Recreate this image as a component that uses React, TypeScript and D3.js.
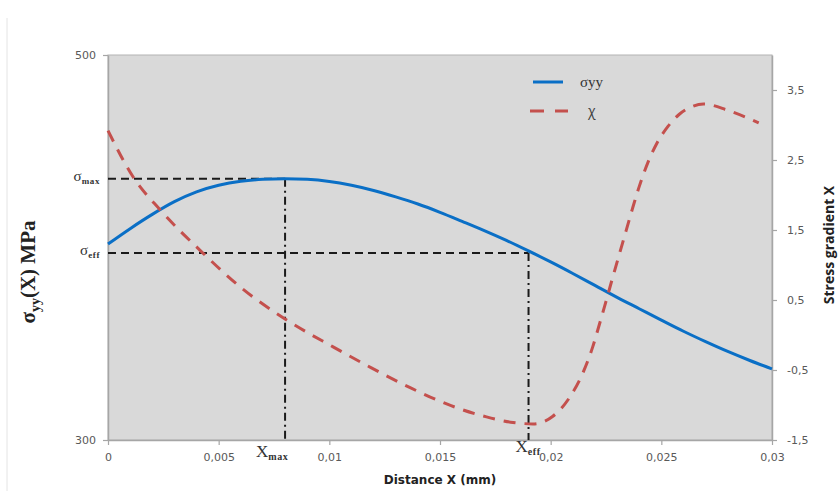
import React, { useEffect, useRef } from 'react';
import * as d3 from 'd3';

// sigma_yy(X) in MPa
const sigmaX = [0, 0.001, 0.002, 0.003, 0.004, 0.005, 0.006, 0.007, 0.008, 0.009, 0.01, 0.011, 0.012, 0.013, 0.014, 0.015, 0.016, 0.017, 0.018, 0.019, 0.02, 0.021, 0.022, 0.023, 0.024, 0.025, 0.026, 0.027, 0.028, 0.029, 0.03];
const sigmaY = [401.8, 409.8, 417.2, 423.8, 428.9, 432.3, 434.4, 435.4, 435.7, 435.4, 434.3, 432.3, 429.6, 426.3, 422.6, 418.3, 413.6, 408.8, 403.7, 398.2, 392.5, 386.5, 380.3, 374.1, 368.2, 362.3, 356.5, 351.1, 346.0, 341.3, 336.9];

// stress gradient chi
const chiX = [0, 0.00113, 0.00235, 0.00416, 0.00596, 0.00809, 0.01017, 0.0119, 0.0137, 0.0155, 0.0171, 0.0183, 0.0192, 0.0201, 0.0209, 0.0215, 0.0219, 0.0222, 0.0225, 0.0228, 0.0231, 0.0234, 0.0237, 0.0240, 0.0244, 0.0248, 0.0253, 0.0258, 0.0263, 0.0269, 0.0280, 0.0294];
const chiY = [2.92, 2.26, 1.79, 1.21, 0.69, 0.21, -0.17, -0.47, -0.76, -1.01, -1.17, -1.25, -1.27, -1.16, -0.87, -0.51, -0.17, 0.15, 0.48, 0.82, 1.15, 1.48, 1.81, 2.12, 2.47, 2.74, 2.98, 3.15, 3.25, 3.30, 3.21, 3.03];

const xTicks = [0, 0.005, 0.01, 0.015, 0.02, 0.025, 0.03];
const leftTicks = [300, 500];
const rightTicks = [-1.5, -0.5, 0.5, 1.5, 2.5, 3.5];

const sigmaMax = 435.7;
const sigmaEff = 397.1;
const xMax = 0.0080;
const xEff = 0.0190;

const W = 840;
const H = 491;
const plot = { left: 108, right: 772, top: 55, bottom: 440 };

const comma = (d: number) => (d === 0 ? '0' : String(d).replace('.', ','));

export default function App() {
  const ref = useRef<SVGSVGElement>(null);

  useEffect(() => {
    const svg = d3.select(ref.current);
    svg.selectAll('*').remove();

    const x = d3.scaleLinear().domain([0, 0.03]).range([plot.left, plot.right]);
    const yL = d3.scaleLinear().domain([300, 500]).range([plot.bottom, plot.top]);
    const yR = d3.scaleLinear().domain([-1.5, 4]).range([plot.bottom, plot.top]);

    // faint outer frame line on the left
    svg.append('line')
      .attr('x1', 7).attr('x2', 7).attr('y1', 18).attr('y2', H)
      .attr('stroke', '#e4e4e4').attr('stroke-width', 1);

    svg.append('rect')
      .attr('x', plot.left).attr('y', plot.top)
      .attr('width', plot.right - plot.left).attr('height', plot.bottom - plot.top)
      .attr('fill', '#d9d9d9').attr('stroke', '#b3b3b3').attr('stroke-width', 1);

    const axisStyle = (g: any) => {
      g.select('.domain').attr('stroke', '#a6a6a6').attr('stroke-width', 1.5);
      g.selectAll('.tick line').attr('stroke', '#a6a6a6').attr('stroke-width', 1.2);
      g.selectAll('.tick text')
        .attr('fill', '#595959')
        .attr('font-family', '"DejaVu Sans", sans-serif')
        .attr('font-size', 11);
    };

    svg.append('g')
      .attr('transform', `translate(0,${plot.bottom})`)
      .call(d3.axisBottom(x).tickValues(xTicks).tickFormat(comma as any).tickSize(5).tickSizeOuter(0).tickPadding(8))
      .call(axisStyle);

    svg.append('g')
      .attr('transform', `translate(${plot.left},0)`)
      .call(d3.axisLeft(yL).tickValues(leftTicks).tickSize(5).tickSizeOuter(0).tickPadding(7))
      .call(axisStyle);

    svg.append('g')
      .attr('transform', `translate(${plot.right},0)`)
      .call(d3.axisRight(yR).tickValues(rightTicks).tickFormat(comma as any).tickSize(5).tickSizeOuter(0).tickPadding(10))
      .call(axisStyle);

    // reference lines
    const refs = svg.append('g').attr('stroke', '#1a1a1a').attr('fill', 'none');
    refs.append('line')
      .attr('x1', plot.left).attr('x2', x(xMax))
      .attr('y1', yL(sigmaMax)).attr('y2', yL(sigmaMax))
      .attr('stroke-width', 2).attr('stroke-dasharray', '8,5');
    refs.append('line')
      .attr('x1', plot.left).attr('x2', x(xEff))
      .attr('y1', yL(sigmaEff)).attr('y2', yL(sigmaEff))
      .attr('stroke-width', 2).attr('stroke-dasharray', '8,5');
    refs.append('line')
      .attr('x1', x(xMax)).attr('x2', x(xMax))
      .attr('y1', yL(sigmaMax)).attr('y2', plot.bottom)
      .attr('stroke-width', 2).attr('stroke-dasharray', '8,4,2,4');
    refs.append('line')
      .attr('x1', x(xEff)).attr('x2', x(xEff))
      .attr('y1', yL(sigmaEff)).attr('y2', plot.bottom)
      .attr('stroke-width', 2).attr('stroke-dasharray', '8,4,2,4');

    const sigmaLine = d3.line<number>()
      .x((_, i) => x(sigmaX[i]))
      .y(d => yL(d))
      .curve(d3.curveMonotoneX);
    svg.append('path')
      .attr('d', sigmaLine(sigmaY))
      .attr('fill', 'none').attr('stroke', '#0a6fc6').attr('stroke-width', 3);

    const chiLine = d3.line<number>()
      .x((_, i) => x(chiX[i]))
      .y(d => yR(d))
      .curve(d3.curveMonotoneX);
    svg.append('path')
      .attr('d', chiLine(chiY))
      .attr('fill', 'none').attr('stroke', '#c4504d').attr('stroke-width', 3)
      .attr('stroke-dasharray', '12,9');

    // legend
    const lg = svg.append('g');
    lg.append('line').attr('x1', 533).attr('x2', 563).attr('y1', 82).attr('y2', 82)
      .attr('stroke', '#0a6fc6').attr('stroke-width', 3);
    lg.append('text').attr('x', 580).attr('y', 87).text('σyy')
      .attr('font-family', '"Liberation Serif", serif').attr('font-size', 15).attr('fill', '#333');
    lg.append('line').attr('x1', 530).attr('x2', 568).attr('y1', 111).attr('y2', 111)
      .attr('stroke', '#c4504d').attr('stroke-width', 3).attr('stroke-dasharray', '14,11');
    lg.append('text').attr('x', 588).attr('y', 116).text('χ')
      .attr('font-family', '"Open Sans", sans-serif').attr('font-size', 14).attr('fill', '#404040');

    // sigma / X labels
    const subLabel = (px: number, py: number, main: string, sub: string, anchor: string, size: number, subSize: number) => {
      const t = svg.append('text').attr('x', px).attr('y', py)
        .attr('text-anchor', anchor)
        .attr('font-family', '"Liberation Serif", serif').attr('fill', '#333');
      t.append('tspan').attr('font-size', size).text(main);
      t.append('tspan').attr('font-size', subSize).attr('font-weight', 'bold')
        .attr('letter-spacing', 0.6).attr('dy', 3).text(sub);
      return t;
    };
    subLabel(100, yL(sigmaMax) + 2, 'σ', 'max', 'end', 15, 9);
    subLabel(100, yL(sigmaEff) + 2, 'σ', 'eff', 'end', 15, 9);
    subLabel(x(xMax) - 29, 457, 'X', 'max', 'start', 17, 10);
    subLabel(x(xEff) - 13, 452, 'X', 'eff', 'start', 17, 10);

    // axis titles
    const lt = svg.append('text')
      .attr('transform', `translate(35,272) rotate(-90)`)
      .attr('text-anchor', 'middle')
      .attr('font-family', '"Liberation Serif", serif').attr('font-weight', 'bold')
      .attr('font-size', 21).attr('fill', '#222');
    lt.append('tspan').text('σ');
    lt.append('tspan').attr('font-size', 14).attr('dy', 5).text('yy');
    lt.append('tspan').attr('dy', -5).text('(X) MPa');

    svg.append('text')
      .attr('transform', `translate(834,245) rotate(-90)`)
      .attr('text-anchor', 'middle')
      .attr('font-family', '"Open Sans", sans-serif').attr('font-weight', 'bold')
      .attr('font-size', 14).attr('fill', '#222')
      .text('Stress gradient  Χ');

    svg.append('text')
      .attr('x', 440).attr('y', 484)
      .attr('text-anchor', 'middle')
      .attr('font-family', '"DejaVu Sans", sans-serif').attr('font-weight', 'bold')
      .attr('font-size', 12).attr('fill', '#222')
      .text('Distance X (mm)');
  }, []);

  return (
    <svg ref={ref} width={W} height={H}
      style={{ position: 'absolute', left: 0, top: 0, background: '#fff' }} />
  );
}
